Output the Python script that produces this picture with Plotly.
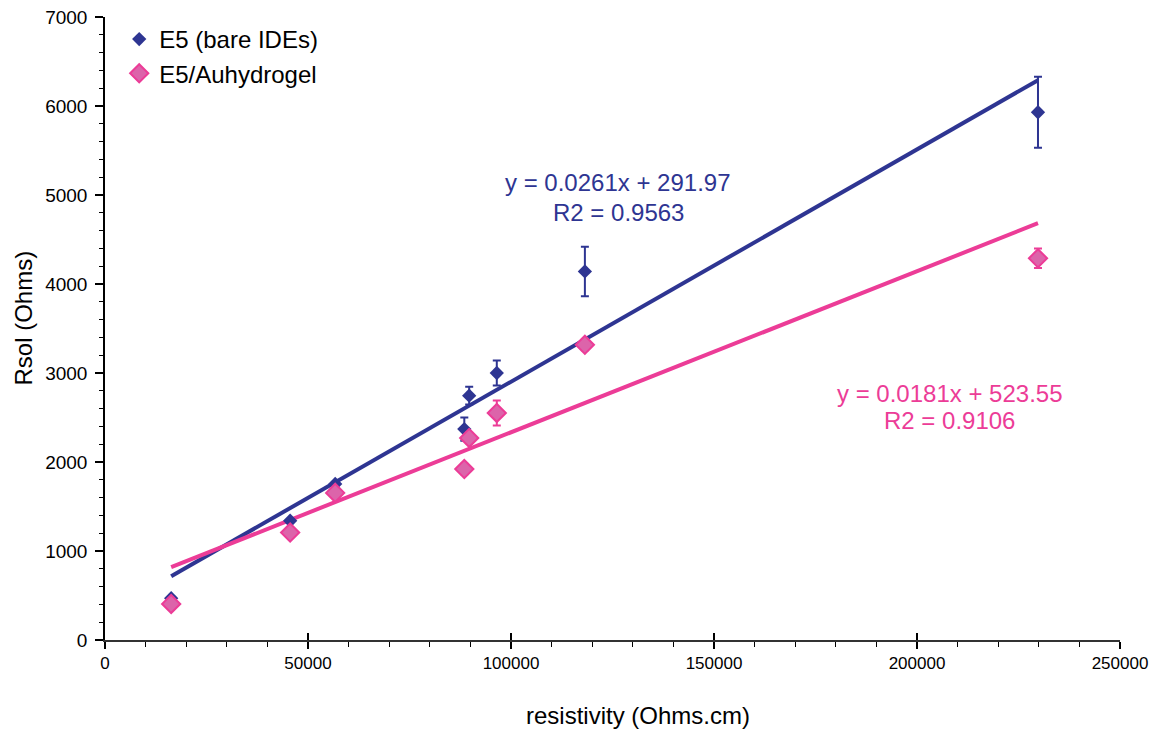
import plotly.graph_objects as go

# ---- data ----
resistivity = [16300, 45600, 56700, 88500, 89700, 96500, 118200, 229800]

bare_rsol = [470, 1340, 1754, 2370, 2745, 3000, 4141, 5930]
bare_err = [20, 20, 20, 130, 100, 140, 278, 400]

hydro_rsol = [405, 1207, 1653, 1921, 2270, 2551, 3317, 4289]
hydro_err = [20, 20, 20, 60, 60, 140, 60, 110]

series_names = ["E5 (bare IDEs)", "E5/Auhydrogel"]
slopes = [0.0261, 0.0181]
intercepts = [291.97, 523.55]
r2_values = [0.9563, 0.9106]

x_title = "resistivity (Ohms.cm)"
y_title = "Rsol (Ohms)"

BLUE = "#2E3592"
PINK = "#EC3C97"
PINK_FILL = "#DC64AA"
FONT = "Liberation Sans, Arial, sans-serif"

fig = go.Figure()

# trendlines (from displayed equations), over the data's x range
xmin, xmax = min(resistivity), max(resistivity)
for s, b, col in zip(slopes, intercepts, [BLUE, PINK]):
    fig.add_trace(go.Scatter(
        x=[xmin, xmax], y=[s * xmin + b, s * xmax + b],
        mode="lines", line=dict(color=col, width=4),
        showlegend=False, hoverinfo="skip"))

fig.add_trace(go.Scatter(
    x=resistivity, y=bare_rsol, mode="markers", name=series_names[0],
    marker=dict(symbol="diamond", size=11, color=BLUE),
    error_y=dict(type="data", array=bare_err, visible=True,
                 color=BLUE, thickness=2, width=4)))

fig.add_trace(go.Scatter(
    x=resistivity, y=hydro_rsol, mode="markers", name=series_names[1],
    marker=dict(symbol="diamond", size=14, color=PINK_FILL,
                line=dict(color=PINK, width=2)),
    error_y=dict(type="data", array=hydro_err, visible=True,
                 color=PINK, thickness=2, width=4)))

# empty helper trace so the overlay axis (upper half of crossing ticks) is drawn
fig.add_trace(go.Scatter(x=[None], y=[None], xaxis="x2", yaxis="y",
                         showlegend=False, hoverinfo="skip"))

# equation labels
eq_pos = [(126400, 5135, 4809), (208100, 2775, 2461)]
for (ax, y1, y2), s, b, r2, col in zip(eq_pos, slopes, intercepts, r2_values, [BLUE, PINK]):
    fig.add_annotation(x=ax, y=y1, text=f"y = {s}x + {b}", showarrow=False,
                       font=dict(family=FONT, size=24, color=col))
    fig.add_annotation(x=ax, y=y2, text=f"R2 = {r2}", showarrow=False,
                       font=dict(family=FONT, size=24, color=col))

# axis titles (placed slightly off-centre, as in the reference)
fig.add_annotation(x=0.525, y=0, xref="paper", yref="paper",
                   xanchor="center", yanchor="middle", yshift=-75,
                   text=x_title, showarrow=False,
                   font=dict(family=FONT, size=24, color="black"))
fig.add_annotation(x=0, y=0.5, xref="paper", yref="paper",
                   xanchor="center", yanchor="middle", xshift=-82, yshift=10,
                   text=y_title, textangle=-90, showarrow=False,
                   font=dict(family=FONT, size=24, color="black"))

# page body has an 8px margin, so the figure is slightly smaller and shifted
fig.update_layout(
    width=1160, height=722,
    margin=dict(l=97, r=48, t=9, b=90),
    paper_bgcolor="white", plot_bgcolor="white",
    font=dict(family=FONT, color="black"),
    showlegend=True,
    legend=dict(x=0.014, y=1.0, xanchor="left", yanchor="top",
                font=dict(family=FONT, size=24, color="black"),
                bgcolor="rgba(0,0,0,0)", tracegroupgap=0, itemwidth=30),
    xaxis=dict(range=[0, 250000], dtick=50000, tickformat="d",
               automargin=False, ticklabeloverflow="allow",
               showgrid=False, zeroline=False,
               showline=True, linecolor="#333333", linewidth=2,
               ticks="outside", ticklen=7, tickcolor="black", tickwidth=1.5,
               minor=dict(dtick=10000, ticks="outside", ticklen=5,
                          tickcolor="black", tickwidth=1),
               tickfont=dict(family=FONT, size=17)),
    xaxis2=dict(range=[0, 250000], dtick=50000, overlaying="x",
                anchor="y", side="bottom", automargin=False,
                showgrid=False, zeroline=False, showline=False,
                showticklabels=False,
                ticks="inside", ticklen=7, tickcolor="black", tickwidth=1.5),
    yaxis=dict(range=[0, 7000], dtick=1000,
               automargin=False, ticklabeloverflow="allow",
               showgrid=False, zeroline=False,
               showline=True, linecolor="black", linewidth=1.5,
               ticks="outside", ticklen=8, tickcolor="black", tickwidth=1.5,
               ticklabelstandoff=4,
               minor=dict(dtick=200, ticks="outside", ticklen=4,
                          tickcolor="black", tickwidth=1),
               tickfont=dict(family=FONT, size=19)),
)

fig.write_html("out.html")
